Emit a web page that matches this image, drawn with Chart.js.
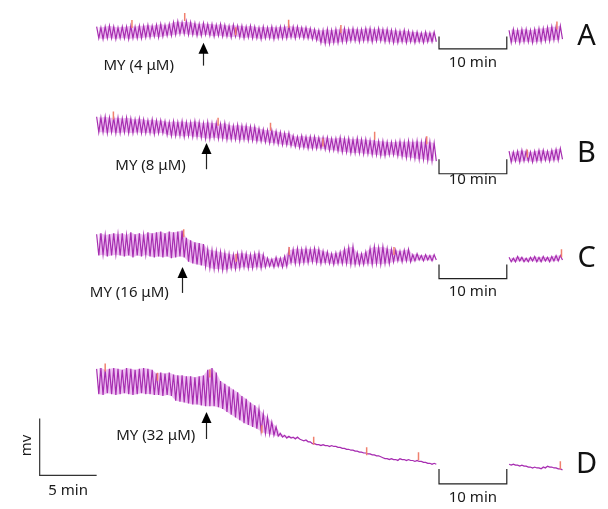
<!DOCTYPE html>
<html>
<head>
<meta charset="utf-8">
<script src="https://cdn.jsdelivr.net/npm/chart.js@4/dist/chart.umd.min.js"></script>
<style>
  html, body { margin: 0; padding: 0; background: #fff; }
  #wrap { position: relative; width: 608px; height: 509px; overflow: hidden; }
  #wrap canvas { position: absolute; left: 0; }
</style>
</head>
<body>
<div id="wrap">
  <canvas id="panelA" width="608" height="95" style="top:0px"></canvas>
  <canvas id="panelB" width="608" height="115" style="top:95px"></canvas>
  <canvas id="panelC" width="608" height="100" style="top:210px"></canvas>
  <canvas id="panelD" width="608" height="169" style="top:340px"></canvas>
</div>
<script>
// one contraction cycle, minutes
const CYCLE = 0.375;
const washStart = 36.2;
const gapStart = 30.05;
const gapEnd = 36.0;

const panelLetters = ['A', 'B', 'C', 'D'];
const doseLabels = ['MY (4 μM)', 'MY (8 μM)', 'MY (16 μM)', 'MY (32 μM)'];
const doseTimes = [9.31, 9.57, 7.5, 9.57];
const gapLabel = '10 min';

// A (4 uM)
const peaksA = [71,70,71,72,71,70,71,71,72, 71,72,72,73,72,73,74,73,74, 76,77,76,77,76,
  75,74,75,74,74,73,74, 73,72,73,72,72,71,72, 71,70,71,70,71,70,71,71,72, 71,71,70,70,69,68,
  67,67,68,67,68, 68,69,68,69,68, 68,69,69,68,69,68,68, 67,67,66,67,66,65,65,64,65,64,65];
const troughsA = [58,57,58,58,57,58,58,57,58, 58,58,59,59,60,59,60,61,61, 62,63,63,62,62,
  61,61,62,61,60,61,60, 60,59,60,59,58,59,58, 58,57,58,58,57,58,58,58,59, 58,59,58,58,57,56,
  53,52,52,53,53, 54,54,55,55,54, 55,55,54,55,55,54,54, 53,53,54,53,54,53,54,53,54,54,54];
const washPeaksA = [67,68,67,68,68,67,68,69,69,70,71,71,72];
const washTroughsA = [53,54,53,54,54,53,54,54,55,55,56,56,57];
const markTimesA = [3.1, 7.73, 12.2, 16.85, 21.44, 40.4];
const markLevelsA = [74, 82, 66, 74.5, 68.5, 72.5];

// B (8 uM)
const peaksB = [97,96,97,96,96, 96,95,96,95,94,95,94,93,94,93,93, 92,91,92,91,92,91,91,92,
  91,90,91,90,90,89,90, 88,87,88,87,87,86,86, 84,83,82,82,81,80,79,79, 76,75,76,75,75,75,74,
  74,74,73,73,74,73,73,72,73, 72,72,71,71,70,70,69,69, 69,70,69,70,69,70,69,70,69,68];
const troughsB = [80,80,79,80,79, 79,80,79,79,80,79,79,79,78,79,79, 77,76,76,76,75,76,75,75,
  74,73,73,74,73,73,72, 72,72,71,72,71,71,70, 70,69,68,68,67,66,66,65, 64,63,63,62,62,62,62,
  61,60,60,59,58,58,57,57,57, 56,56,55,55,54,54,55,55, 54,53,52,52,51,50,50,49,48,48];
const washPeaksB = [59,58,59,60,59,58,59,60,60,59,60,61,62];
const washTroughsB = [47,48,47,48,48,47,48,48,49,48,49,49,50];
const markTimesB = [1.47, 10.66, 15.26, 19.86, 24.4, 28.97, 37.8];
const markLevelsB = [98.5, 91.5, 86, 68.5, 76, 71, 56.5];

// C (16 uM)
const peaksC = [79,80,78,79,80,79, 80,78,81,79,80,78,81,80, 81,82,80,82,81,82,83,
  75,72,70,69,68, 62,61,60,59,58, 57,56,57,58,57,56,57,58,56, 52,51,53,52,54, 61,62,63,62,
  63,62,63,62, 60,59,57,58,59, 62,64,65, 58,57,59, 63,65,64,65,63, 62,61,60,61,62, 56,57,55,56,55,56];
const troughsC = [55,56,54,55,56,55, 54,55,53,55,54,56,54,53, 54,53,54,52,53,54,53,
  48,46,45,44,43, 41,40,40,39,39, 41,40,41,42,41,41,42,41,42, 43,42,43,42,43, 47,46,46,47,
  47,48,47,46, 47,46,45,46,46, 46,45,45, 45,45,46, 45,46,45,46,46, 48,49,48,49,48, 49,50,49,50,49,50];
const washPeaksC = [53,52,54,53,52,53,54,53,54,53,54,55,55];
const washTroughsC = [48,48,49,48,48,49,48,48,49,48,49,49,50];
const markTimesC = [7.64, 12.24, 16.9, 26.1, 40.8];
const markLevelsC = [80, 52.5, 60, 60, 57.5];

// D (32 uM)
const peaksD = [144,145,143,144,145,144,143,145,144,143,144,145,144,143, 139,140,139,140,
  138,137,137,136,136,135,136,137, 143,145,140, 131,128,125,122, 119,115,112,108,105,
  101,96,92,87,82, 75,73,72,71,71, 68,68,66,64,63, 63,62,62,61,60,59,
  58,57,56,55,54,53,52,51, 49,48,48,47,48,47,47, 46,46,45,44,43,43];
const troughsD = [117,116,118,117,116,117,118,117,116,117,118,117,117,116, 116,115,116,115,
  110,109,108,107,106,106,105,104, 104,104,103, 101,98,95,92, 89,86,84,82,80,
  77,75,74,73,72, 71,70,70,69,69, 67,66,64,63,62, 62,61,61,60,59,58,
  57,56,55,54,53,52,51,50, 48,47,47,46,47,46,46, 45,45,44,43,42,42];
const washPeaksD = [42,42,41,41,40,39,39,38,39,40,39,38,37];
const washTroughsD = [41,41,40,40,39,38,38,37,38,39,38,37,36];
const markTimesD = [0.75, 5.34, 9.94, 14.5, 19.05, 23.7, 28.25, 40.7];
const markLevelsD = [145.5, 135.5, 139, 79.5, 67, 56, 50.5, 41];

// scale bar (panel D)
const scaleBarMinutes = 5;
const scaleBarMv = 61;

const traceColor = '#a62db0';
const bandColor = 'rgba(222,140,230,0.55)';
const markColor = '#f0806e';
const font = '"Noto Sans", "DejaVu Sans", sans-serif';

function zigzag(start, peaks, troughs) {
  const pts = [];
  peaks.forEach((p, i) => {
    pts.push({ x: start + i * CYCLE, y: p });
    pts.push({ x: start + i * CYCLE + CYCLE / 2, y: troughs[i] });
  });
  return pts;
}
function envelope(start, vals, offset) {
  return vals.map((v, i) => ({ x: start + i * CYCLE + offset, y: v }));
}

const panelNotes = {
  id: 'panelNotes',
  afterDraw(chart, args, o) {
    const ctx = chart.ctx;
    const xs = chart.scales.x, ys = chart.scales.y;
    const X = (v) => xs.getPixelForValue(v);
    const Y = (v) => ys.getPixelForValue(v);
    ctx.save();
    ctx.strokeStyle = '#222';
    ctx.fillStyle = '#1a1a1a';
    ctx.lineWidth = 1.2;

    // break bracket
    ctx.beginPath();
    ctx.moveTo(X(gapStart), Y(o.bracket[0]));
    ctx.lineTo(X(gapStart), Y(o.bracket[1]));
    ctx.lineTo(X(gapEnd), Y(o.bracket[1]));
    ctx.lineTo(X(gapEnd), Y(o.bracket[0]));
    ctx.stroke();
    ctx.font = '15px ' + font;
    ctx.textAlign = 'center';
    ctx.textBaseline = 'middle';
    ctx.fillText(gapLabel, X((gapStart + gapEnd) / 2), Y(o.gapText));

    // dose arrow
    const ax = Math.round(X(o.arrowAt)) + 0.5;
    const top = Y(o.arrow[1]), bot = Y(o.arrow[0]);
    ctx.beginPath();
    ctx.moveTo(ax, bot);
    ctx.lineTo(ax, top + 8);
    ctx.stroke();
    ctx.beginPath();
    ctx.moveTo(ax, top);
    ctx.lineTo(ax - 5, top + 11);
    ctx.lineTo(ax + 5, top + 11);
    ctx.closePath();
    ctx.fillStyle = '#000';
    ctx.fill();

    ctx.fillStyle = '#1a1a1a';
    ctx.textAlign = 'left';
    ctx.fillText(o.dose, X(o.doseAt[0]), Y(o.doseAt[1]));

    // panel letter
    ctx.font = '29px ' + font;
    ctx.textAlign = 'center';
    ctx.fillStyle = '#111';
    ctx.fillText(o.letter, X(43.0), Y(o.letterAt));

    if (o.scaleBar) {
      const b = o.scaleBar;
      ctx.strokeStyle = '#333';
      ctx.lineWidth = 1.2;
      ctx.beginPath();
      ctx.moveTo(X(-scaleBarMinutes), Y(b.base + scaleBarMv));
      ctx.lineTo(X(-scaleBarMinutes), Y(b.base));
      ctx.lineTo(X(0), Y(b.base));
      ctx.stroke();
      ctx.font = '15px ' + font;
      ctx.fillStyle = '#1a1a1a';
      ctx.textAlign = 'center';
      ctx.fillText(scaleBarMinutes + ' min', X(-scaleBarMinutes / 2), Y(b.base - 16));
      ctx.save();
      ctx.translate(X(-6.1), Y(b.base + 32));
      ctx.rotate(-Math.PI / 2);
      ctx.fillText('mv', 0, 0);
      ctx.restore();
    }
    ctx.restore();
  }
};

const panels = [
  { id: 'panelA', h: 95, peaks: peaksA, troughs: troughsA, wp: washPeaksA, wt: washTroughsA,
    mt: markTimesA, ml: markLevelsA,
    notes: { bracket: [60, 46], gapText: 30, arrow: [27, 53], doseAt: [0.6, 27], letterAt: 60 } },
  { id: 'panelB', h: 115, peaks: peaksB, troughs: troughsB, wp: washPeaksB, wt: washTroughsB,
    mt: markTimesB, ml: markLevelsB,
    notes: { bracket: [50, 34], gapText: 27, arrow: [39, 68], doseAt: [1.64, 43], letterAt: 56 } },
  { id: 'panelC', h: 100, peaks: peaksC, troughs: troughsC, wp: washPeaksC, wt: washTroughsC,
    mt: markTimesC, ml: markLevelsC,
    notes: { bracket: [45, 29], gapText: 14, arrow: [13, 42], doseAt: [-0.6, 13], letterAt: 51 } },
  { id: 'panelD', h: 169, peaks: peaksD, troughs: troughsD, wp: washPeaksD, wt: washTroughsD,
    mt: markTimesD, ml: markLevelsD,
    notes: { bracket: [37, 21], gapText: 6, arrow: [69, 98], doseAt: [1.72, 72], letterAt: 41,
      scaleBar: { base: 30 } } }
];

panels.forEach((p, k) => {
  const line = (data, extra) => Object.assign({
    type: 'line', data, borderColor: traceColor, borderWidth: 1.2, pointRadius: 0, tension: 0, fill: false
  }, extra || {});
  new Chart(document.getElementById(p.id), {
    type: 'line',
    data: {
      datasets: [
        { type: 'scatter', data: p.mt.map((t, i) => ({ x: t, y: p.ml[i] })),
          pointStyle: 'line', rotation: 90, pointRadius: 4, borderColor: markColor,
          borderWidth: 1.5, showLine: false },
        line(zigzag(0, p.peaks, p.troughs)),
        line(zigzag(washStart, p.wp, p.wt)),
        line(envelope(0, p.peaks, 0), { borderWidth: 0, fill: '+1', backgroundColor: bandColor }),
        line(envelope(0, p.troughs, CYCLE / 2), { borderWidth: 0 }),
        line(envelope(washStart, p.wp, 0), { borderWidth: 0, fill: '+1', backgroundColor: bandColor }),
        line(envelope(washStart, p.wt, CYCLE / 2), { borderWidth: 0 })
      ]
    },
    options: {
      responsive: false,
      animation: false,
      layout: { padding: 0 },
      scales: {
        x: { type: 'linear', min: -8, max: 44.4, display: false },
        y: { min: 0, max: p.h, display: false }
      },
      plugins: {
        legend: { display: false },
        tooltip: { enabled: false },
        panelNotes: Object.assign({ letter: panelLetters[k], dose: doseLabels[k], arrowAt: doseTimes[k] }, p.notes)
      }
    },
    plugins: [panelNotes]
  });
});
</script>
</body>
</html>
